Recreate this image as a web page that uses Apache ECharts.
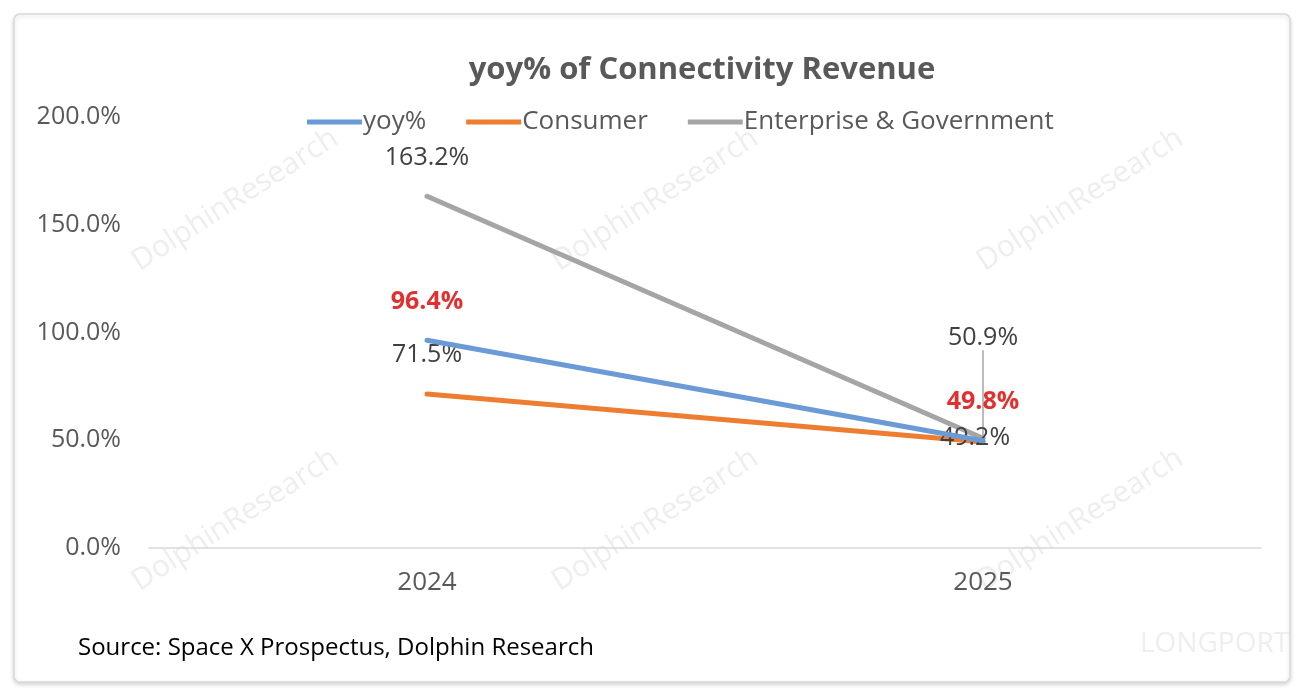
<!DOCTYPE html>
<html>
<head>
<meta charset="utf-8">
<script src="https://cdn.jsdelivr.net/npm/echarts@6/dist/echarts.min.js"></script>
<style>
  html, body { margin: 0; padding: 0; background: #fff; }
  #main { width: 1306px; height: 694px; }
</style>
</head>
<body>
<div id="main"></div>
<script>
// 数据
var years = ['2024', '2025'];
var yoyData = [96.4, 49.8];
var consumerData = [71.5, 49.2];
var enterpriseData = [163.2, 50.9];
var yTicks = [0, 50, 100, 150, 200];

var dom = document.getElementById('main');
var myChart = echarts.init(dom);

var FONT = '"Open Sans", "Noto Sans", sans-serif';

// 水印
var marks = [];
var spots = [[235, 200], [655, 200], [1080, 200], [235, 520], [655, 520], [1080, 520]];
spots.forEach(function (p) {
    marks.push({
        type: 'text',
        x: p[0], y: p[1],
        rotation: Math.PI / 5.5,
        silent: true,
        z: -5,
        style: {
            text: 'DolphinResearch',
            fill: '#eeeeee',
            font: '30px ' + FONT,
            align: 'center',
            verticalAlign: 'middle'
        }
    });
});

function pct(p) { return p.value.toFixed(1) + '%'; }

// 只有2025的点需要引导线
var enterpriseItems = enterpriseData.map(function (v, i) {
    return { value: v, labelLine: { show: i === 1 } };
});

var option = {
    backgroundColor: '#fff',
    title: {
        text: 'yoy% of Connectivity Revenue',
        left: 697,
        top: 50,
        textAlign: 'center',
        textStyle: {
            fontFamily: FONT,
            fontWeight: 'bold',
            fontSize: 31,
            color: '#595959'
        }
    },
    color: ['#6b9bd6', '#ed7d31', '#a5a5a5'],
    legend: {
        top: 104,
        left: 302,
        itemWidth: 55,
        itemHeight: 5,
        itemGap: 40,
        icon: 'rect',
        textStyle: {
            fontFamily: FONT,
            fontSize: 26,
            color: '#595959',
            padding: [0, 0, 0, -4]
        },
        data: ['yoy%', 'Consumer', 'Enterprise & Government']
    },
    grid: {
        left: 149,
        right: 45,
        top: 117,
        bottom: 146
    },
    xAxis: {
        type: 'category',
        data: years,
        boundaryGap: true,
        axisLine: { lineStyle: { color: '#d9d9d9', width: 1.5 } },
        axisTick: { show: false },
        axisLabel: {
            margin: 22,
            fontFamily: FONT,
            fontSize: 26,
            color: '#595959'
        }
    },
    yAxis: {
        type: 'value',
        min: yTicks[0],
        max: yTicks[yTicks.length - 1],
        interval: 50,
        splitLine: { show: false },
        axisLine: { show: false },
        axisTick: { show: false },
        axisLabel: {
            margin: 28,
            fontFamily: FONT,
            fontSize: 25,
            color: '#595959',
            formatter: function (v) { return v.toFixed(1) + '%'; }
        }
    },
    graphic: [
        {
            type: 'rect',
            shape: { x: 14, y: 14, width: 1276, height: 668, r: 6 },
            silent: true,
            z: -10,
            style: {
                fill: '#fff',
                stroke: '#d9d9d9',
                lineWidth: 1.5,
                shadowBlur: 4,
                shadowOffsetY: 2,
                shadowColor: 'rgba(0,0,0,0.15)'
            }
        },
        {
            type: 'text',
            left: 78,
            top: 636,
            style: {
                text: 'Source: Space X Prospectus, Dolphin Research',
                fill: '#000',
                font: '24px ' + FONT
            }
        },
        {
            type: 'text',
            left: 1140,
            top: 630,
            silent: true,
            z: -5,
            style: {
                text: 'LONGPORT',
                fill: '#eeeeee',
                font: '28px ' + FONT
            }
        }
    ].concat(marks),
    series: [
        {
            name: 'yoy%',
            type: 'line',
            data: yoyData,
            symbol: 'circle',
            symbolSize: 0.1,
            lineStyle: { width: 5, cap: 'round' },
            label: {
                show: true,
                position: 'top',
                distance: 26,
                fontFamily: FONT,
                fontSize: 25,
                fontWeight: 'bold',
                color: '#e03030',
                formatter: pct
            },
            z: 3
        },
        {
            name: 'Consumer',
            type: 'line',
            data: consumerData,
            symbol: 'circle',
            symbolSize: 0.1,
            lineStyle: { width: 5, cap: 'round' },
            label: {
                show: true,
                position: 'top',
                distance: 26,
                fontFamily: FONT,
                fontSize: 25,
                color: '#404040',
                formatter: pct
            },
            labelLayout: function (params) {
                if (params.dataIndex === 1) {
                    return { dx: -8, dy: 34 };
                }
                return {};
            },
            z: 2
        },
        {
            name: 'Enterprise & Government',
            type: 'line',
            data: enterpriseItems,
            symbol: 'circle',
            symbolSize: 0.1,
            lineStyle: { width: 5, cap: 'round' },
            label: {
                show: true,
                position: 'top',
                distance: 26,
                fontFamily: FONT,
                fontSize: 25,
                color: '#404040',
                formatter: pct
            },
            labelLine: {
                show: true,
                lineStyle: { color: '#a5a5a5', width: 1.5 }
            },
            labelLayout: function (params) {
                if (params.dataIndex === 1) {
                    return { dy: -62 };
                }
                return {};
            },
            z: 1
        }
    ]
};

myChart.setOption(option);
</script>
</body>
</html>
